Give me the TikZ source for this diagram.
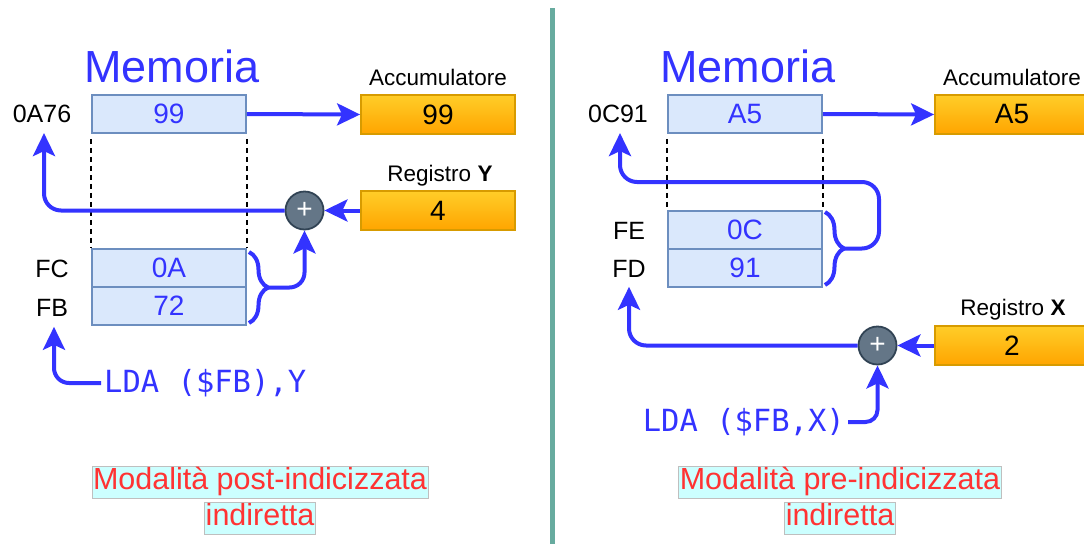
\documentclass[tikz,border=0pt]{standalone}
\usepackage{fontspec}
\setmainfont{Liberation Sans}
\newfontfamily\codefont{DejaVu Sans Mono}
\usetikzlibrary{arrows.meta,decorations.pathreplacing,calc}

\definecolor{flow}{HTML}{3333FF}
\definecolor{cellfill}{HTML}{DAE8FC}
\definecolor{cellline}{HTML}{6C8EBF}
\definecolor{regtop}{HTML}{FFCD28}
\definecolor{regbot}{HTML}{FFA500}
\definecolor{regline}{HTML}{D79B00}
\definecolor{addfill}{HTML}{647687}
\definecolor{addline}{HTML}{314354}
\definecolor{modefill}{HTML}{CCFFFF}
\definecolor{modeline}{HTML}{BFBFBF}
\definecolor{modetext}{HTML}{FF3333}
\definecolor{divider}{HTML}{67AB9F}

\tikzset{
  fs/.style={font=\fontsize{#1}{#1}\selectfont},
  cell/.style={draw=cellline, fill=cellfill, line width=1.8pt,
    minimum width=154pt, minimum height=38pt, inner sep=0pt,
    text=flow, fs=28},
  reg/.style={draw=regline, top color=regtop, bottom color=regbot,
    line width=1.8pt, minimum width=154pt, minimum height=39pt,
    inner sep=0pt, fs=28},
  adder/.style={circle, draw=addline, fill=addfill, line width=1.8pt,
    minimum size=38pt, inner sep=0pt, text=white, fs=28},
  addr/.style={fs=25, inner sep=2pt},
  title/.style={text=flow, fs=45, anchor=base, inner sep=0pt},
  caption/.style={fs=22.5, anchor=base, inner sep=0pt},
  code/.style={text=flow, font=\codefont\fontsize{30.5}{30.5}\selectfont,
    inner sep=3pt},
  mode/.style={fill=modefill, draw=modeline, line width=0.8pt,
    text=modetext, fs=30.5, inner xsep=1pt, inner ysep=1.5pt,
    text height=22pt, text depth=7pt},
  flowline/.style={draw=flow, line width=4pt,
    -{Stealth[length=23pt,width=22pt,inset=5pt]}},
  bracket/.style={draw=flow, line width=4pt,
    decorate, decoration={brace, amplitude=19pt}},
  guide/.style={draw=black, line width=1.6pt, dash pattern=on 5pt off 4pt},
}

\begin{document}
\begin{tikzpicture}[x=1pt, y=-1pt]
\useasboundingbox (0,0) rectangle (1084,544);

% divider between the two modes
\draw[divider, line width=5pt] (552.5,8) -- (552.5,544);

% ---------------- post-indexed indirect ----------------
\node[title] (memL) at (172,82) {Memoria};
\node[cell] (mL1) at (169,114) {99};
\node[cell] (mLfc) at (169,268) {0A};
\node[cell] (mLfb) at (169,306) {72};
\node[addr] (aL1) at (42,114) {0A76};
\node[addr] (aLfc) at (52,269) {FC};
\node[addr] (aLfb) at (52,308) {FB};

\draw[guide, shorten <=5pt] (mL1.south west) -- (mLfc.north west);
\draw[guide, shorten <=5pt] (mL1.south east) -- (mLfc.north east);

\node[reg] (accL) at (438,114.5) {99};
\node[caption] at (438,85) {Accumulatore};
\node[reg] (regY) at (438,210.5) {4};
\node[caption] at (440,181) {Registro \textbf{Y}};
\node[adder] (addL) at (304.5,210.5) {+};

\draw[flowline] (mL1.east) -- (accL.west);
\draw[flowline] (regY.west) -- (addL.east);
\draw[flowline, rounded corners=17pt] (addL.west) -| ($(aL1.south)+(2,8)$);

\draw[bracket] (249,252) -- (249,323);
\coordinate (tipL) at (268,287.5);
\draw[flowline, rounded corners=15pt] (tipL) -| (addL.south);

\node[code, anchor=west] (codeL) at (101,383) {LDA (\$FB),Y};
\draw[flowline, rounded corners=15pt] (codeL.west) -| ($(aLfb.south)+(2,8)$);

\node[mode] (modeL1) at (260,482) {Modalità post-indicizzata};
\node[mode] (modeL2) at (260,518) {indiretta};

% ---------------- pre-indexed indirect ----------------
\node[title] (memR) at (748,82) {Memoria};
\node[cell] (mR1) at (745,114) {A5};
\node[cell] (mRfe) at (745,230) {0C};
\node[cell] (mRfd) at (745,268) {91};
\node[addr] (aR1) at (618,114) {0C91};
\node[addr] (aRfe) at (629,231) {FE};
\node[addr] (aRfd) at (629,269) {FD};

\draw[guide, shorten <=5pt] (mR1.south west) -- (mRfe.north west);
\draw[guide, shorten <=5pt] (mR1.south east) -- (mRfe.north east);

\node[reg] (accR) at (1012,114.5) {A5};
\node[caption] at (1012,85) {Accumulatore};
\node[reg] (regX) at (1012,345.5) {2};
\node[caption] at (1013,315) {Registro \textbf{X}};
\node[adder] (addR) at (877.5,345.5) {+};

\draw[flowline] (mR1.east) -- (accR.west);
\draw[flowline] (regX.west) -- (addR.east);

\draw[bracket] (825,212) -- (825,285);
\coordinate (tipR) at (844,248.5);
\coordinate (bendR) at (879,182);
\draw[flowline, rounded corners=17pt] (tipR) -| (bendR) -| ($(aR1.south)+(2,8)$);

\draw[flowline, rounded corners=17pt] (addR.west) -| ($(aRfd.south)+(0,7)$);

\node[code, anchor=east] (codeR) at (848,422) {LDA (\$FB,X)};
\draw[flowline, rounded corners=12pt] (codeR.east) -| (addR.south);

\node[mode] (modeR1) at (840,482) {Modalità pre-indicizzata};
\node[mode] (modeR2) at (840,518) {indiretta};
\end{tikzpicture}
\end{document}
